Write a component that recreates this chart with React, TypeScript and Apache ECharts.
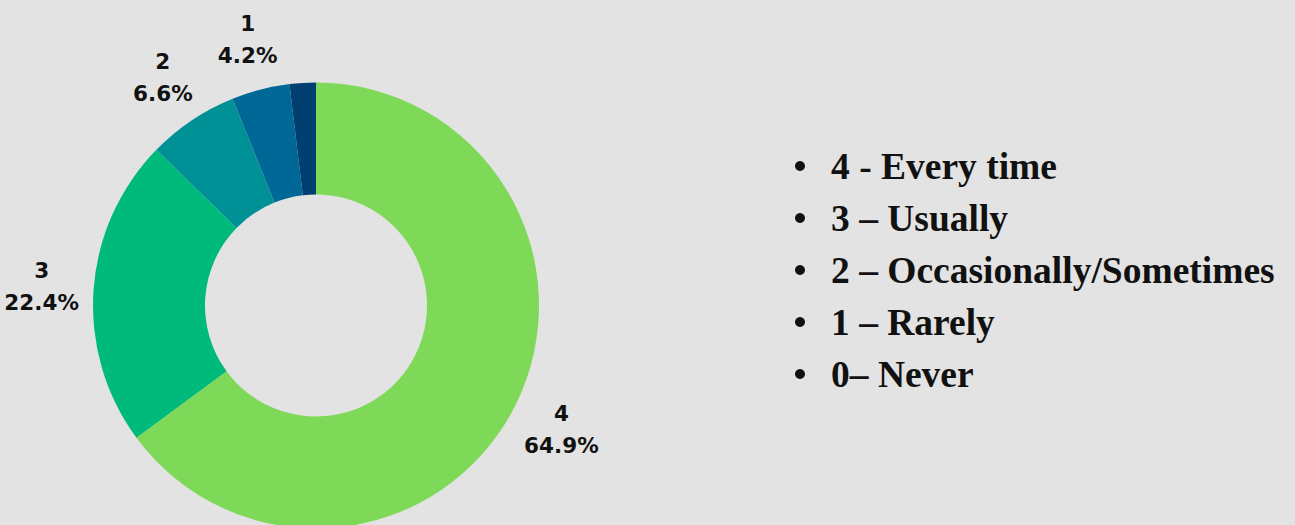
import React, { useEffect, useRef } from "react";
import * as echarts from "echarts";

const categories = ["4", "3", "2", "1", "0"];
const percentages = [64.9, 22.4, 6.6, 4.2, 1.9];
const legendLabels = [
  "4 - Every time",
  "3 – Usually",
  "2 – Occasionally/Sometimes",
  "1 – Rarely",
  "0– Never",
];
const colors = ["#7FD959", "#00BA7C", "#009196", "#006897", "#003F70"];
const showLabel = [true, true, true, true, false];

export default function App() {
  const ref = useRef<HTMLDivElement>(null);
  useEffect(() => {
    if (!ref.current) return;
    const chart = echarts.init(ref.current, undefined, { renderer: "svg" });
    const center = [316, 305.5];
    const nameMap: Record<string, string> = {};
    categories.forEach((c, i) => (nameMap[c] = legendLabels[i]));
    chart.setOption({
      animation: false,
      backgroundColor: "#E3E3E3",
      legend: {
        orient: "vertical",
        left: 795,
        top: 146,
        padding: 0,
        itemGap: 12,
        itemWidth: 52,
        itemHeight: 10,
        icon: "circle",
        selectedMode: false,
        itemStyle: { color: "#111111" },
        data: categories,
        formatter: (name: string) => nameMap[name],
        textStyle: {
          fontFamily: "Liberation Serif",
          fontWeight: "bold",
          fontSize: 37.5,
          lineHeight: 40,
          color: "#111111",
        },
      },
      series: [
        {
          type: "pie",
          center,
          radius: [111, 223],
          startAngle: 90,
          clockwise: true,
          silent: true,
          label: { show: false },
          labelLine: { show: false },
          data: categories.map((c, i) => ({
            name: c,
            value: percentages[i],
            itemStyle: { color: colors[i] },
          })),
        },
        {
          type: "pie",
          center,
          radius: [262, 282],
          startAngle: 90,
          clockwise: true,
          silent: true,
          legendHoverLink: false,
          itemStyle: { color: "rgba(0,0,0,0)" },
          labelLine: { show: false },
          label: {
            position: "inside",
            fontFamily: "DejaVu Sans",
            fontWeight: "bold",
            fontSize: 21.5,
            lineHeight: 32,
            color: "#111111",
            align: "center",
          },
          data: categories.map((c, i) => ({
            name: "lbl" + c,
            value: percentages[i],
            label: {
              show: showLabel[i],
              formatter: () => `${c}\n${percentages[i].toFixed(1)}%`,
            },
          })),
        },
      ],
    });
    return () => chart.dispose();
  }, []);
  return (
    <div
      ref={ref}
      style={{ position: "fixed", left: 0, top: 0, width: 1295, height: 525 }}
    />
  );
}
